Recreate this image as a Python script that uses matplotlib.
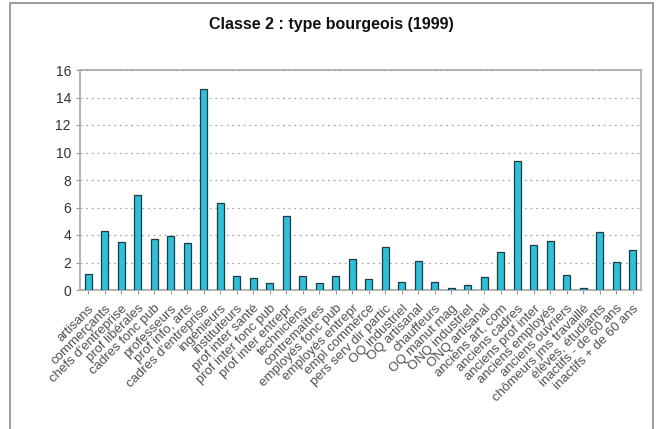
import matplotlib
matplotlib.use("Agg")
import matplotlib.pyplot as plt
from matplotlib.patches import Rectangle

categories = [
    "artisans", "commerçants", "chefs d'entreprise", "prof libérales",
    "cadres fonc pub", "professeurs", "prof info, arts", "cadres d'entreprise",
    "ingénieurs", "instituteurs", "prof inter santé", "prof inter fonc pub",
    "prof inter entrepr", "techniciens", "contremaîtres", "employés fonc pub",
    "employés entrepr", "empl commerce", "pers serv dir partic", "OQ industriel",
    "OQ artisanal", "chauffeurs", "OQ manut mag", "ONQ industriel",
    "ONQ artisanal", "anciens art, com", "anciens cadres", "anciens prof inter",
    "anciens employés", "anciens ouvriers", "chômeurs jms travaillé",
    "élèves, étudiants", "inactifs - de 60 ans", "inactifs + de 60 ans",
]
values = [
    1.2, 4.3, 3.5, 6.9, 3.7, 3.9, 3.4, 14.6,
    6.35, 1.0, 0.9, 0.5, 5.4, 1.0, 0.5, 1.0,
    2.25, 0.8, 3.1, 0.55, 2.1, 0.55, 0.15, 0.4,
    0.95, 2.75, 9.4, 3.25, 3.55, 1.1, 0.15, 4.2,
    2.05, 2.9,
]
yticks = [0, 2, 4, 6, 8, 10, 12, 14, 16]
title = "Classe 2 : type bourgeois (1999)"

plt.rcParams['font.family'] = ['Liberation Sans', 'DejaVu Sans']

fig = plt.figure(figsize=(6.56, 4.29), dpi=100)
W, H = 656, 429

# outer chart frame
fig.patches.append(Rectangle((10 / W, -0.1), (653 - 10) / W, 1.1 - 3 / H,
                             transform=fig.transFigure, fill=False,
                             edgecolor="#8a8a8a", linewidth=1.2))

ax = fig.add_axes([80 / W, (H - 290) / H, (641 - 80) / W, (290 - 70) / H])
x = list(range(len(categories)))
ax.bar(x, values, width=0.44, color="#2ec0d8", edgecolor="#1f3a40",
       linewidth=0.9, zorder=3)
ax.set_xlim(-0.5, len(categories) - 0.5)
ax.set_ylim(0, 16)
ax.set_yticks(yticks)
ax.set_yticklabels([str(v) for v in yticks], fontsize=10, color="#333333")
ax.yaxis.grid(True, linestyle=(0, (1.5, 3)), color="#aaaaaa", linewidth=0.9, zorder=0)
ax.set_xticks(x)
ax.set_xticklabels(categories, rotation=45, ha="right", va="top",
                   rotation_mode="anchor", fontsize=9.5, color="#505050")
ax.tick_params(axis="x", length=3, color="#999999", pad=6)
ax.tick_params(axis="y", length=3, color="#999999")
for s in ax.spines.values():
    s.set_color("#a8a8a8")
    s.set_linewidth(1.2)

fig.text(331 / W, 1 - 25 / H, title, ha="center", va="center",
         fontsize=11.5, fontweight="bold", color="#111111")

fig.savefig("out.png", dpi=100)
